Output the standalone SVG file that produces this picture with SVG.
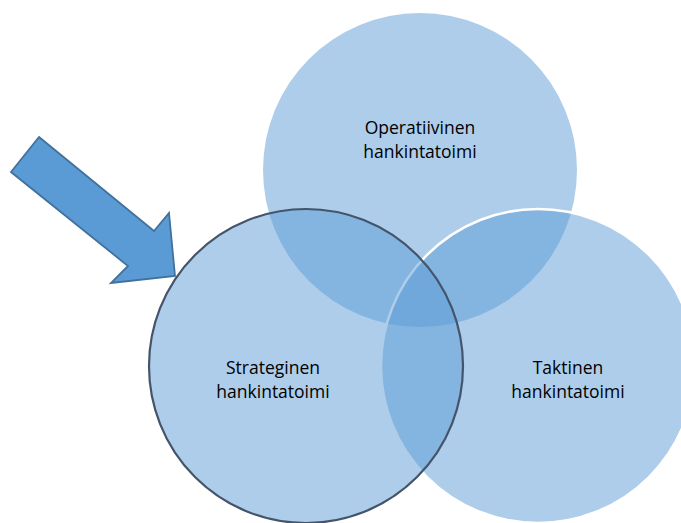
<svg xmlns="http://www.w3.org/2000/svg" width="681" height="523" viewBox="0 0 681 523">
<style>
.c{fill:#5B9BD5;fill-opacity:0.5}
.t{font-family:"Open Sans","Liberation Sans",sans-serif;font-size:17.5px;fill:#000;text-anchor:middle}
</style>
<rect width="681" height="523" fill="#fff"/>
<g id="operatiivinen">
<circle class="c" cx="420" cy="170" r="157"/>
<text class="t" x="420" y="134">Operatiivinen</text>
<text class="t" x="420" y="158">hankintatoimi</text>
</g>
<g id="taktinen">
<circle class="c" cx="538" cy="366" r="157" stroke="#fff" stroke-width="2.5"/>
<text class="t" x="568" y="374">Taktinen</text>
<text class="t" x="568" y="398">hankintatoimi</text>
</g>
<g id="strateginen">
<circle class="c" cx="306" cy="366" r="157" stroke="#44546A" stroke-width="2.2"/>
<text class="t" x="273" y="374">Strateginen</text>
<text class="t" x="273" y="398">hankintatoimi</text>
</g>
<g id="connectors">
<polygon points="39,137 154,231 169,213 175,276 111,283 128,266 11,172" fill="#5B9BD5" stroke="#41719C" stroke-width="1.8" stroke-linejoin="miter"/>
</g>
</svg>
